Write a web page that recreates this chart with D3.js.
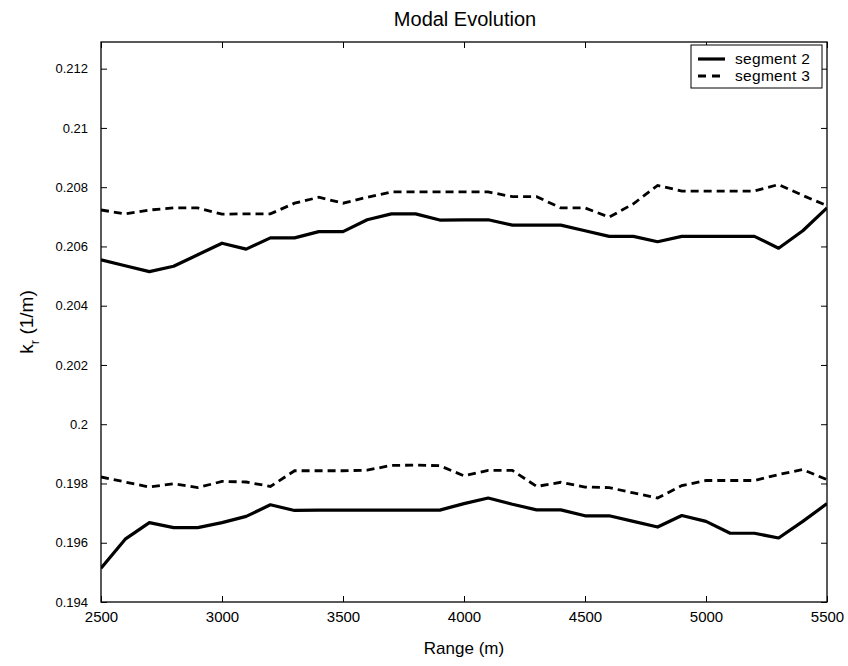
<!DOCTYPE html>
<html>
<head>
<meta charset="utf-8">
<script src="https://cdn.jsdelivr.net/npm/d3@7/dist/d3.min.js"></script>
<style>
  html, body { margin: 0; padding: 0; background: #fff; }
  svg { display: block; font-family: Arial, "Liberation Sans", Helvetica, sans-serif; }
</style>
</head>
<body>
<script>
// ---- data ----
const ranges = [2500, 2600, 2700, 2800, 2900, 3000, 3100, 3200, 3300, 3400, 3500,
                3600, 3700, 3800, 3900, 4000, 4100, 4200, 4300, 4400, 4500,
                4600, 4700, 4800, 4900, 5000, 5100, 5200, 5300, 5400, 5500];

// segment 2 (solid), upper mode
const seg2Upper = [0.20555, 0.20535, 0.20515, 0.20533, 0.20572, 0.20611, 0.20591, 0.20629, 0.20629, 0.20650, 0.20650,
                   0.20690, 0.20710, 0.20710, 0.20689, 0.20690, 0.20690, 0.20672, 0.20672, 0.20672, 0.20653,
                   0.20634, 0.20634, 0.20616, 0.20634, 0.20634, 0.20634, 0.20634, 0.20594, 0.20653, 0.20730];
// segment 3 (dashed), upper mode
const seg3Upper = [0.20723, 0.20710, 0.20723, 0.20730, 0.20730, 0.20709, 0.20710, 0.20710, 0.20746, 0.20766, 0.20746,
                   0.20766, 0.20784, 0.20784, 0.20784, 0.20784, 0.20784, 0.20768, 0.20768, 0.20730, 0.20730,
                   0.20699, 0.20744, 0.20806, 0.20787, 0.20787, 0.20787, 0.20787, 0.20809, 0.20772, 0.20738];
// segment 2 (solid), lower mode
const seg2Lower = [0.19514, 0.19612, 0.19668, 0.19651, 0.19651, 0.19668, 0.19689, 0.19728, 0.19709, 0.19710, 0.19710,
                   0.19710, 0.19710, 0.19710, 0.19710, 0.19732, 0.19751, 0.19730, 0.19711, 0.19711, 0.19691,
                   0.19691, 0.19672, 0.19653, 0.19692, 0.19672, 0.19632, 0.19632, 0.19616, 0.19672, 0.19732];
// segment 3 (dashed), lower mode
const seg3Lower = [0.19822, 0.19805, 0.19788, 0.19799, 0.19786, 0.19807, 0.19805, 0.19790, 0.19843, 0.19843, 0.19843,
                   0.19845, 0.19861, 0.19862, 0.19860, 0.19826, 0.19844, 0.19844, 0.19790, 0.19804, 0.19788,
                   0.19786, 0.19768, 0.19751, 0.19793, 0.19810, 0.19810, 0.19810, 0.19830, 0.19847, 0.19813];

const xTicks = [2500, 3000, 3500, 4000, 4500, 5000, 5500];
const yTicks = [0.194, 0.196, 0.198, 0.2, 0.202, 0.204, 0.206, 0.208, 0.21, 0.212];
const yTickLabels = ["0.194", "0.196", "0.198", "0.2", "0.202", "0.204", "0.206", "0.208", "0.21", "0.212"];
const seriesNames = ["segment 2", "segment 3"];

// ---- layout ----
const W = 848, H = 666;
const pLeft = 101, pRight = 827, pTop = 42, pBottom = 602;

const svg = d3.select("body").append("svg").attr("width", W).attr("height", H);

const x = d3.scaleLinear().domain([2500, 5500]).range([pLeft, pRight]);
const y = d3.scaleLinear().domain([0.194, 0.2129]).range([pBottom, pTop]);

const tickLen = 6;

const fmtY = d => yTickLabels[yTicks.indexOf(d)];

const xAxisB = d3.axisBottom(x).tickValues(xTicks).tickSizeInner(-tickLen).tickSizeOuter(0).tickPadding(9).tickFormat(d3.format("d"));
const xAxisT = d3.axisTop(x).tickValues(xTicks).tickSizeInner(-tickLen).tickSizeOuter(0).tickFormat("");
const yAxisL = d3.axisLeft(y).tickValues(yTicks).tickSizeInner(-tickLen).tickSizeOuter(0).tickPadding(13).tickFormat(fmtY);
const yAxisR = d3.axisRight(y).tickValues(yTicks).tickSizeInner(-tickLen).tickSizeOuter(0).tickFormat("");

function styleAxis(g, fs) {
  g.select(".domain").remove();
  g.selectAll("line").attr("stroke", "#000").attr("stroke-width", 1);
  g.selectAll("text").attr("fill", "#000").style("font-size", fs + "px").style("font-family", "Arial, 'Liberation Sans', sans-serif");
}

svg.append("g").attr("transform", `translate(0,${pBottom})`).call(xAxisB).call(g => styleAxis(g, 15));
svg.append("g").attr("transform", `translate(0,${pTop})`).call(xAxisT).call(g => styleAxis(g, 15));
svg.append("g").attr("transform", `translate(${pLeft},0)`).call(yAxisL).call(g => styleAxis(g, 13));
svg.append("g").attr("transform", `translate(${pRight},0)`).call(yAxisR).call(g => styleAxis(g, 13));

// box
svg.append("rect")
  .attr("x", pLeft).attr("y", pTop)
  .attr("width", pRight - pLeft).attr("height", pBottom - pTop)
  .attr("fill", "none").attr("stroke", "#000").attr("stroke-width", 1.3);

// lines
const line = d3.line().x((d, i) => x(ranges[i])).y(d => y(d));

svg.append("clipPath").attr("id", "clip").append("rect")
  .attr("x", pLeft).attr("y", pTop).attr("width", pRight - pLeft).attr("height", pBottom - pTop);

const plot = svg.append("g").attr("clip-path", "url(#clip)");

[seg2Upper, seg2Lower].forEach(s => {
  plot.append("path").datum(s).attr("d", line)
    .attr("fill", "none").attr("stroke", "#000").attr("stroke-width", 3.2)
    .attr("stroke-linejoin", "round");
});
[seg3Upper, seg3Lower].forEach(s => {
  plot.append("path").datum(s).attr("d", line)
    .attr("fill", "none").attr("stroke", "#000").attr("stroke-width", 2.8)
    .attr("stroke-dasharray", "8,5");
});

// title
svg.append("text").attr("x", 465).attr("y", 26).attr("text-anchor", "middle")
  .style("font-size", "20px").attr("fill", "#000").text("Modal Evolution");

// x label
svg.append("text").attr("x", 464).attr("y", 654).attr("text-anchor", "middle")
  .style("font-size", "17px").attr("fill", "#000").text("Range (m)");

// y label
const yl = svg.append("text")
  .attr("transform", `translate(33,322) rotate(-90)`)
  .attr("text-anchor", "middle").style("font-size", "19px").attr("fill", "#000");
yl.append("tspan").text("k");
yl.append("tspan").attr("dy", 6).style("font-size", "13px").text("r");
yl.append("tspan").attr("dy", -6).text(" (1/m)");

// legend
const lg = svg.append("g");
const lx = 691, ly = 45, lw = 131, lh = 43;
lg.append("rect").attr("x", lx).attr("y", ly).attr("width", lw).attr("height", lh)
  .attr("fill", "#fff").attr("stroke", "#000").attr("stroke-width", 1);
seriesNames.forEach((name, i) => {
  const yy = ly + 14 + i * 17;
  lg.append("line").attr("x1", lx + 7).attr("x2", lx + 34).attr("y1", yy).attr("y2", yy)
    .attr("stroke", "#000").attr("stroke-width", i === 0 ? 3.2 : 2.8)
    .attr("stroke-dasharray", i === 0 ? null : "8,6");
  lg.append("text").attr("x", lx + 44).attr("y", yy + 5)
    .style("font-size", "15.5px").style("letter-spacing", "0.3px").attr("fill", "#000").text(name);
});
</script>
</body>
</html>
